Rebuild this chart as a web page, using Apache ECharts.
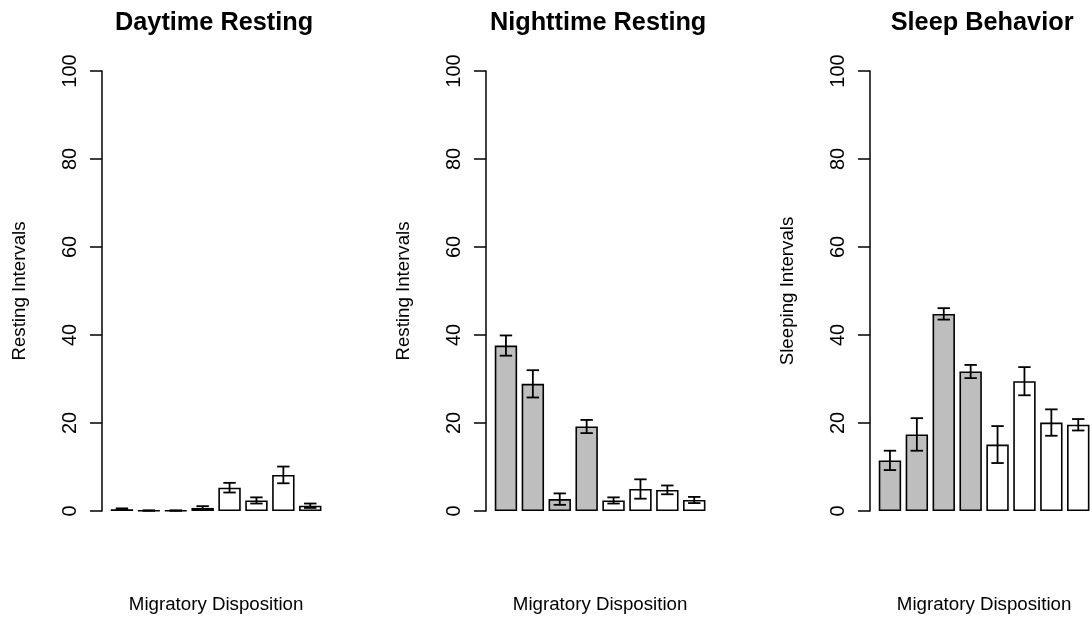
<!DOCTYPE html>
<html>
<head>
<meta charset="utf-8">
<script src="https://cdn.jsdelivr.net/npm/echarts@6/dist/echarts.min.js"></script>
<style>
    html, body { margin: 0; padding: 0; background: #fff; }
    #chart { width: 1092px; height: 617px; }
</style>
</head>
<body>
<div id="chart"></div>
<script>
    // groups: first four migratory (grey), last four resident (white)
    const groups = ['M1', 'M2', 'M3', 'M4', 'R1', 'R2', 'R3', 'R4'];
    const migratory = [true, true, true, true, false, false, false, false];

    // daytime resting
    const dayMean = [0.4, 0.1, 0.1, 0.7, 5.3, 2.4, 8.2, 1.2];
    const daySe = [0.2, 0.05, 0.05, 0.4, 1.1, 0.7, 1.9, 0.5];
    // nighttime resting
    const nightMean = [37.6, 28.9, 2.7, 19.2, 2.4, 5.0, 4.8, 2.5];
    const nightSe = [2.3, 3.1, 1.3, 1.5, 0.7, 2.2, 1.0, 0.7];
    // sleep behavior
    const sleepMean = [11.5, 17.4, 44.8, 31.7, 15.1, 29.5, 20.1, 19.6];
    const sleepSe = [2.2, 3.7, 1.3, 1.5, 4.2, 3.2, 3.0, 1.3];

    const yMin = 0, yMax = 100, yStep = 20;

    const panels = [
        {title: 'Daytime Resting', ylab: 'Resting Intervals', mean: dayMean, se: daySe},
        {title: 'Nighttime Resting', ylab: 'Resting Intervals', mean: nightMean, se: nightSe},
        {title: 'Sleep Behavior', ylab: 'Sleeping Intervals', mean: sleepMean, se: sleepSe}
    ];

    const font = "'Liberation Sans', Arial, Helvetica, sans-serif";
    const gridLeft = [108.5, 492.5, 876.5];
    const gridW = 215.2;

    const chart = echarts.init(document.getElementById('chart'));

    let titles = [], grids = [], xAxes = [], yAxes = [], series = [];

    panels.forEach(function (p, k) {
        titles.push({
            text: p.title,
            left: gridLeft[k] + gridW / 2 - 7,
            top: 6,
            textAlign: 'center',
            textStyle: {fontFamily: font, fontSize: 25.3, fontWeight: 'bold', color: '#000'}
        });
        grids.push({left: gridLeft[k], width: gridW, top: 71, bottom: 106, outerBoundsMode: 'none'});
        xAxes.push({
            type: 'category',
            gridIndex: k,
            data: groups,
            name: 'Migratory Disposition',
            nameLocation: 'middle',
            nameGap: 84,
            nameTextStyle: {fontFamily: font, fontSize: 18.7, color: '#000'},
            axisLine: {show: false},
            axisTick: {show: false},
            axisLabel: {show: false}
        });
        yAxes.push({
            type: 'value',
            gridIndex: k,
            min: yMin,
            max: yMax,
            interval: yStep,
            offset: 6.5,
            name: p.ylab,
            nameLocation: 'middle',
            nameGap: 73,
            nameTextStyle: {fontFamily: font, fontSize: 18.7, color: '#000'},
            axisLine: {show: true, lineStyle: {color: '#000', width: 1.5}},
            axisTick: {show: true, length: 12, lineStyle: {color: '#000', width: 1.5}},
            axisLabel: {
                rotate: 90, margin: 22, fontFamily: font, fontSize: 20, color: '#000',
                align: 'center', verticalAlign: 'bottom'
            },
            splitLine: {show: false}
        });
        series.push({
            type: 'bar',
            xAxisIndex: k,
            yAxisIndex: k,
            barCategoryGap: '16.7%',
            data: p.mean.map(function (v, i) {
                return {
                    value: v,
                    itemStyle: {color: migratory[i] ? '#bebebe' : '#ffffff', borderColor: '#000', borderWidth: 1.6}
                };
            }),
            emphasis: {disabled: true}
        });
        series.push({
            type: 'custom',
            xAxisIndex: k,
            yAxisIndex: k,
            z: 5,
            encode: {x: 0, y: [2, 3]},
            data: p.mean.map(function (v, i) {
                return [i, v, v - p.se[i], v + p.se[i]];
            }),
            renderItem: function (params, api) {
                const i = api.value(0);
                const lo = api.coord([i, api.value(2)]);
                const hi = api.coord([i, api.value(3)]);
                const w = 6.2;
                const st = {stroke: '#000', lineWidth: 1.8};
                return {
                    type: 'group',
                    children: [
                        {type: 'line', shape: {x1: lo[0], y1: lo[1], x2: hi[0], y2: hi[1]}, style: st},
                        {type: 'line', shape: {x1: hi[0] - w, y1: hi[1], x2: hi[0] + w, y2: hi[1]}, style: st},
                        {type: 'line', shape: {x1: lo[0] - w, y1: lo[1], x2: lo[0] + w, y2: lo[1]}, style: st}
                    ]
                };
            }
        });
    });

    chart.setOption({
        backgroundColor: '#fff',
        animation: false,
        title: titles,
        grid: grids,
        xAxis: xAxes,
        yAxis: yAxes,
        series: series
    });
</script>
</body>
</html>
